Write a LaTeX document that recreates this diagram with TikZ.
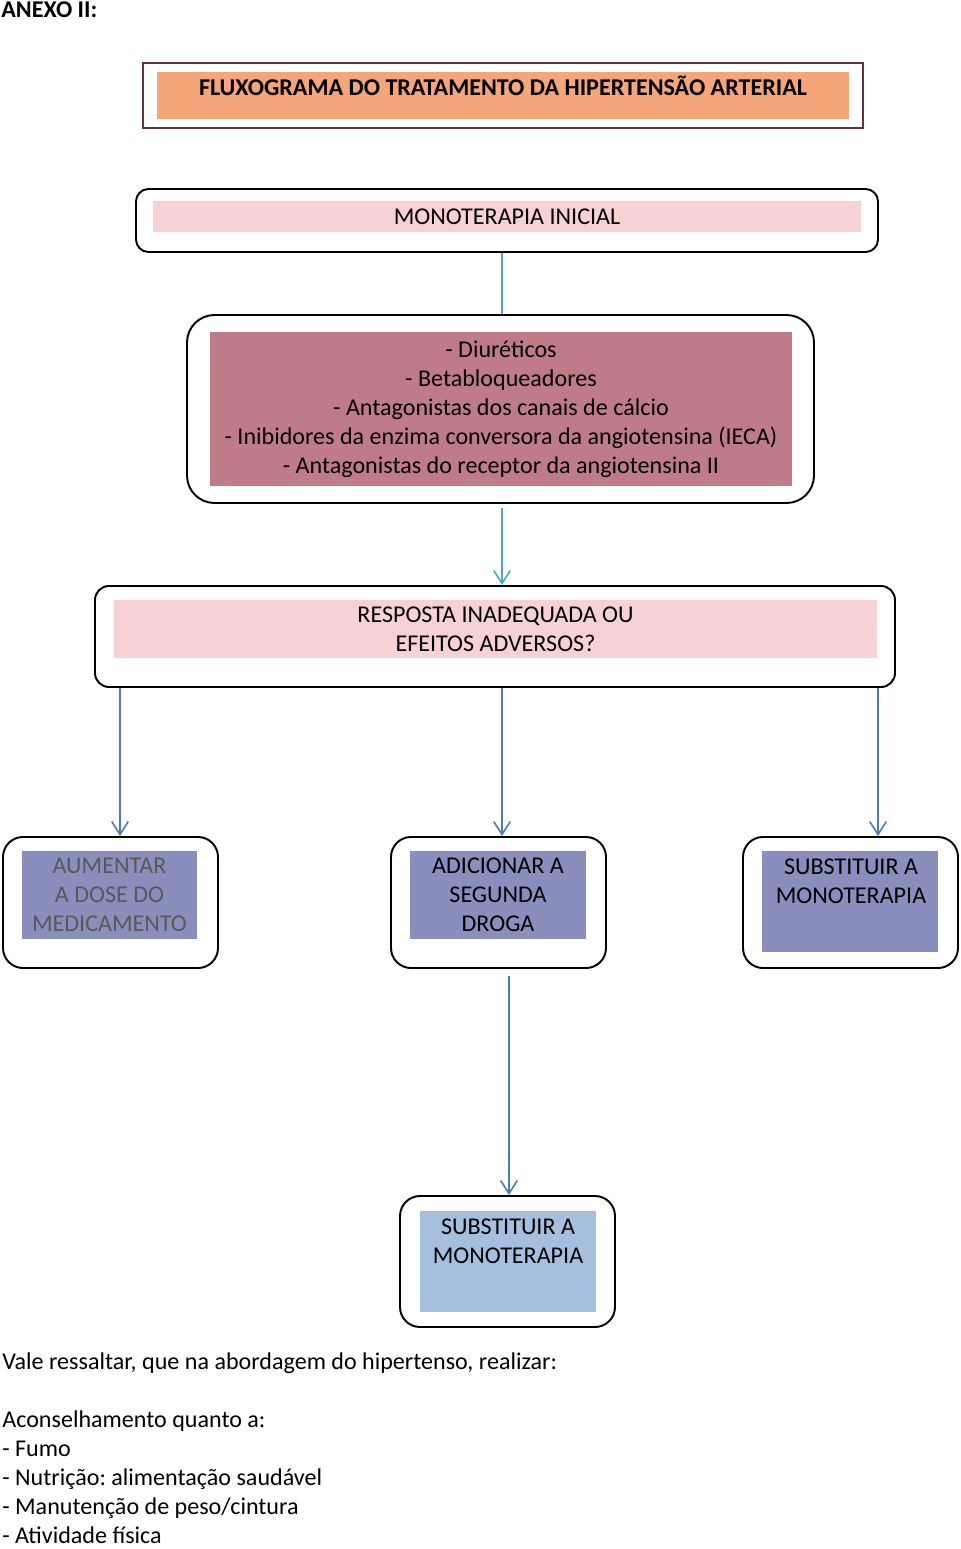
\documentclass[tikz,border=0pt]{standalone}
\usepackage{fontspec}
\setmainfont{Carlito}
\usetikzlibrary{arrows.meta,positioning}
\definecolor{titfill}{RGB}{244,166,122}
\definecolor{titline}{RGB}{96,50,62}
\definecolor{pinkfill}{RGB}{247,210,212}
\definecolor{mauvefill}{RGB}{192,123,136}
\definecolor{purplefill}{RGB}{138,142,188}
\definecolor{bluefill}{RGB}{167,191,222}
\definecolor{tealline}{RGB}{75,168,198}
\definecolor{blueline}{RGB}{74,126,187}
\definecolor{greytext}{RGB}{89,89,89}
\frenchspacing
\begin{document}
\begin{tikzpicture}[
    font=\fontsize{13.7}{16.5}\selectfont,
    every node/.style={inner sep=0pt},
    roundbox/.style={draw, line width=1.1pt, rounded corners=#1},
    roundbox/.default=0.25cm,
    fillbox/.style={fill=#1, align=center},
    tealarrow/.style={tealline, line width=0.9pt},
    bluearrow/.style={blueline, line width=0.9pt, -{Straight Barb[length=0.26cm,width=0.33cm]}},
  ]
  \useasboundingbox (0,0) rectangle (19.2,-30.98);

  % cabecalho
  \node[anchor=west, font=\fontsize{13.7}{16.5}\selectfont\bfseries] (anexo) at (0.02,-0.2) {ANEXO II:};
  \node[draw=titline, line width=0.8pt, minimum width=14.4cm, minimum height=1.3cm] (titbox) at (10.06,-1.91) {};
  \node[fill=titfill, minimum width=13.84cm, minimum height=0.94cm] (titfill) at (titbox.center) {};
  \node[font=\fontsize{13.7}{16.5}\selectfont\bfseries] (tittext) at (10.06,-1.72) {FLUXOGRAMA DO TRATAMENTO DA HIPERTENSÃO ARTERIAL};

  % monoterapia inicial
  \node[roundbox, minimum width=14.84cm, minimum height=1.26cm] (mono) at (10.14,-4.41) {};
  \node[fillbox=pinkfill, minimum width=14.16cm, minimum height=0.62cm] (monotxt) at (10.14,-4.33) {MONOTERAPIA INICIAL};

  % classes de drogas
  \node[roundbox=0.55cm, minimum width=12.54cm, minimum height=3.76cm] (drugs) at (10.01,-8.18) {};
  \node[fillbox=mauvefill, minimum width=11.64cm, minimum height=3.08cm] (drugstxt) at (10.02,-8.18)
    {- Diuréticos\\ - Betabloqueadores\\ - Antagonistas dos canais de cálcio\\
     - Inibidores da enzima conversora da angiotensina (IECA)\\ - Antagonistas do receptor da angiotensina II};

  % resposta
  \node[roundbox=0.28cm, minimum width=16cm, minimum height=2.02cm] (resp) at (9.9,-12.73) {};
  \node[fillbox=pinkfill, minimum width=15.26cm, minimum height=1.16cm] (resptxt) at (9.91,-12.58)
    {RESPOSTA INADEQUADA OU\\ EFEITOS ADVERSOS?};

  % tres condutas
  \node[roundbox=0.4cm, minimum width=4.3cm, minimum height=2.62cm] (dose) at (2.21,-18.05) {};
  \node[fillbox=purplefill, text=greytext, minimum width=3.5cm, minimum height=1.76cm] (dosetxt) at (2.19,-17.9)
    {AUMENTAR\\ A DOSE DO\\ MEDICAMENTO};
  \node[roundbox=0.4cm, minimum width=4.3cm, minimum height=2.62cm] (add) at (9.97,-18.05) {};
  \node[fillbox=purplefill, minimum width=3.52cm, minimum height=1.76cm] (addtxt) at (9.96,-17.9)
    {ADICIONAR A\\ SEGUNDA\\ DROGA};
  \node[roundbox=0.4cm, minimum width=4.3cm, minimum height=2.62cm] (subst) at (17.01,-18.05) {};
  \node[fill=purplefill, minimum width=3.52cm, minimum height=2.02cm] (substfill) at (17.0,-18.03) {};
  \node[align=center] (substtxt) at (17.02,-17.63) {SUBSTITUIR A\\ MONOTERAPIA};

  % substituir (segunda droga)
  \node[roundbox=0.4cm, minimum width=4.3cm, minimum height=2.62cm] (subst2) at (10.15,-25.23) {};
  \node[fill=bluefill, minimum width=3.52cm, minimum height=2.02cm] (subst2fill) at (10.16,-25.23) {};
  \node[align=center] (subst2txt) at (10.16,-24.82) {SUBSTITUIR A\\ MONOTERAPIA};

  % ligacoes
  \draw[tealarrow] ([xshift=0.03cm]drugs.north |- mono.south) -- ([xshift=0.03cm]drugs.north);
  \draw[tealarrow, -{Straight Barb[length=0.26cm,width=0.33cm]}]
    ([xshift=0.03cm,yshift=-0.08cm]drugs.south) -- ([xshift=0.03cm]drugs.south |- resp.north);
  \draw[bluearrow] ([xshift=0.19cm]dose.north |- resp.south) -- ([xshift=0.19cm]dose.north);
  \draw[bluearrow] ([xshift=0.07cm]add.north |- resp.south) -- ([xshift=0.07cm]add.north);
  \draw[bluearrow] ([xshift=0.55cm]subst.north |- resp.south) -- ([xshift=0.55cm]subst.north);
  \draw[bluearrow] ([xshift=0.21cm,yshift=-0.14cm]add.south) -- ([xshift=0.21cm]add.south |- subst2.north);

  % nota final
  \node[anchor=north west, align=left] (nota) at (0.04,-27.04)
    {Vale ressaltar, que na abordagem do hipertenso, realizar:\\[16.5pt]
     Aconselhamento quanto a:\\ - Fumo\\ - Nutrição: alimentação saudável\\
     - Manutenção de peso/cintura\\ - Atividade física};
\end{tikzpicture}
\end{document}
